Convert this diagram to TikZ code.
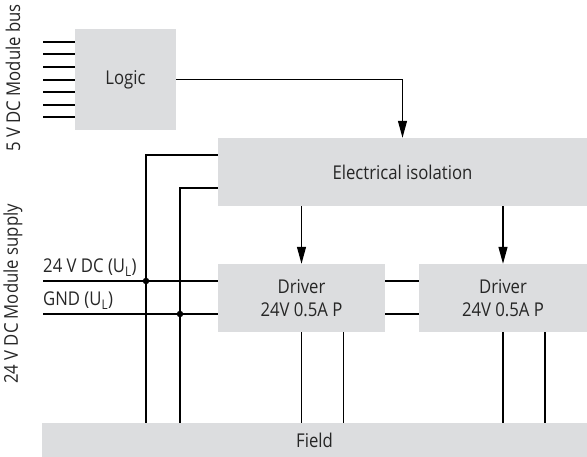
\documentclass[tikz,border=0pt]{standalone}
\usepackage{fontspec}
\setmainfont{Open Sans}[FakeStretch=0.88]
\usetikzlibrary{arrows.meta,positioning,calc}
\definecolor{boxgris}{HTML}{DCDDDF}
\definecolor{texte}{HTML}{262626}

\begin{document}
\begin{tikzpicture}[x=1pt,y=-1pt,
  blk/.style={fill=boxgris,draw=none,font=\fontsize{19}{23}\selectfont,text=texte,align=center,inner sep=0pt},
  w/.style={line width=1.2pt,black},
  f/.style={w,-{Triangle[length=17pt,width=9pt]}},
  lab/.style={font=\fontsize{19}{23}\selectfont,text=texte,inner sep=0pt},
  pt/.style={circle,fill=black,inner sep=0pt,minimum size=6.5pt}]
  \useasboundingbox (0,0) rectangle (587,457);
  % ---- blocs
  \node[blk,minimum width=101pt,minimum height=101pt] (logic) at (125.5,79.5) {Logic};
  \node[blk,minimum width=369pt,minimum height=68pt] (iso) at (402.5,172) {Electrical isolation};
  \node[blk,minimum width=167pt,minimum height=68pt] (drv1) at (301.5,298) {Driver\\24V 0.5A P};
  \node[blk,minimum width=168pt,minimum height=68pt] (drv2) at (503,298) {Driver\\24V 0.5A P};
  \node[blk,minimum width=545pt,minimum height=34pt] (field) at (314.5,440) {Field};
  % ---- bus 5 V
  \foreach \y in {42,54,67,80,92,105,117}
    \draw[w] (logic.west |- 0,\y) -- ++(-32,0);
  \draw[f] (logic.east) -| (iso.north);
  % ---- alimentation 24 V
  \coordinate (ul)  at (43,281);
  \coordinate (gnd) at (43,314);
  \coordinate (k1)  at (146,281);
  \coordinate (k2)  at (180,314);
  \draw[w] (ul) -- (drv1.west |- ul);
  \draw[w] (gnd) -- (drv1.west |- gnd);
  \draw[w] (drv1.east |- ul) -- (drv2.west |- ul);
  \draw[w] (drv1.east |- gnd) -- (drv2.west |- gnd);
  \draw[w] ([yshift=17pt]iso.west) -| (k1 |- field.north);
  \draw[w] ([yshift=-16pt]iso.west) -| (k2 |- field.north);
  \node[pt] (j1) at (k1) {};
  \node[pt] (j2) at (k2) {};
  \node[lab,anchor=base west] (lul)  at (43,273) {24 V DC (U\textsubscript{L})};
  \node[lab,anchor=base west] (lgnd) at (43,306) {GND (U\textsubscript{L})};
  % ---- isolation -> drivers -> field
  \draw[f] (iso.south -| drv1.north) -- (drv1.north);
  \draw[f] (iso.south -| drv2.north) -- (drv2.north);
  \draw[w] (drv1.south) -- (drv1.south |- field.north);
  \draw[w] ([xshift=42pt]drv1.south) -- ([xshift=42pt]drv1.south |- field.north);
  \draw[w] (drv2.south) -- (drv2.south |- field.north);
  \draw[w] ([xshift=42pt]drv2.south) -- ([xshift=42pt]drv2.south |- field.north);
  % ---- titres verticaux
  \node[lab,rotate=90] (tbus) at (13,78) {5 V DC Module bus};
  \node[lab,rotate=90] (tsup) at (13,294) {24 V DC Module supply};
\end{tikzpicture}
\end{document}
